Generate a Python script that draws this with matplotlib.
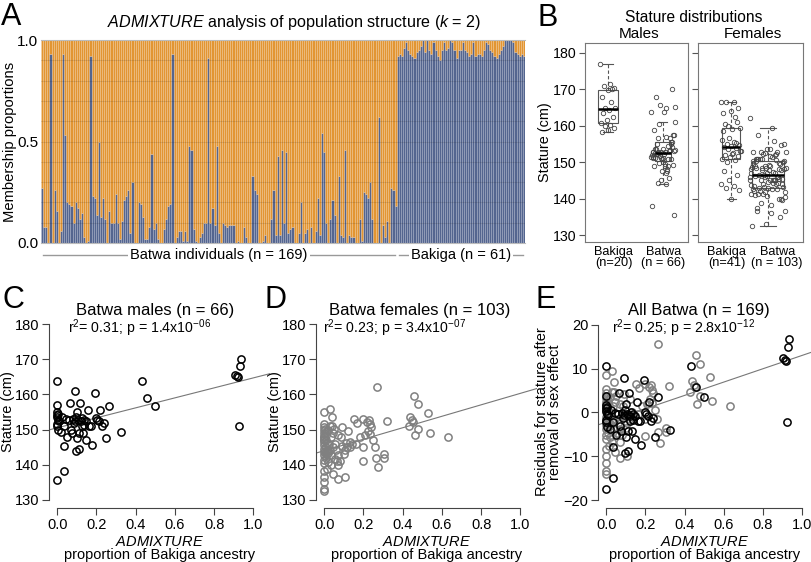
import numpy as np
import matplotlib.pyplot as plt
from matplotlib.transforms import blended_transform_factory

plt.rcParams['font.family'] = ['Liberation Sans', 'DejaVu Sans']
plt.rcParams['mathtext.fontset'] = 'custom'
plt.rcParams['mathtext.rm'] = 'Liberation Sans'
plt.rcParams['mathtext.it'] = 'Liberation Sans:italic'

# ---- panel A: ADMIXTURE membership (Bakiga component) ----
batwa_q = [0.27, 0.08, 0.08, 0.00, 0.93, 0.00, 0.26, 0.16, 0.00, 0.06,
           0.93, 0.53, 0.20, 0.19, 0.18, 0.10, 0.20, 0.17, 0.12, 0.15,
           0.03, 0.00, 0.01, 0.92, 0.23, 0.22, 0.14, 0.50, 0.13, 0.22,
           0.12, 0.00, 0.16, 0.10, 0.10, 0.24, 0.10, 0.02, 0.11, 0.21,
           0.23, 0.26, 0.05, 0.30, 0.00, 0.00, 0.20, 0.19, 0.13, 0.02,
           0.02, 0.08, 0.44, 0.07, 0.10, 0.02, 0.00, 0.00, 0.07,
           0.12, 0.18, 0.19, 0.93, 0.00, 0.03, 0.06, 0.06, 0.01, 0.06,
           0.01, 0.48, 0.46, 0.07, 0.01, 0.00, 0.03, 0.05, 0.10, 0.10,
           0.91, 0.10, 0.17, 0.09, 0.48, 0.05, 0.00, 0.10, 0.09, 0.08,
           0.09, 0.09, 0.09, 0.00, 0.01, 0.00, 0.00, 0.08,
           0.03, 0.00, 0.00, 0.33, 0.26, 0.24, 0.00, 0.00, 0.01, 0.04,
           0.00, 0.00, 0.12, 0.26, 0.04, 0.43, 0.04, 0.46, 0.10, 0.45,
           0.05, 0.07, 0.08, 0.00, 0.00, 0.05, 0.20,
           0.00, 0.05, 0.07, 0.00, 0.08, 0.00, 0.06, 0.22, 0.04,
           0.54, 0.45, 0.10, 0.00, 0.12, 0.21, 0.14, 0.00, 0.33, 0.04,
           0.03, 0.46, 0.00, 0.04, 0.03, 0.03, 0.00, 0.00, 0.12, 0.01,
           0.25, 0.24, 0.22, 0.30, 0.12, 0.00, 0.00, 0.62,
           0.00, 0.09, 0.03, 0.11, 0.00, 0.27, 0.26, 0.18]
bakiga_q = [0.92, 0.93, 0.92, 0.96, 0.99, 0.95, 0.93, 0.92, 0.91, 0.94,
            0.95, 0.97, 1.00, 0.94, 1.00, 0.95, 0.93, 0.99, 0.95, 0.92,
            0.90, 0.95, 0.99, 0.95, 0.96, 1.00, 0.99, 0.95, 0.91, 0.95,
            0.95, 0.99, 0.95, 0.94, 0.92, 0.93, 0.99, 0.92, 0.93, 0.93,
            0.92, 0.95, 0.99, 0.98, 0.95, 0.94, 0.92, 0.91, 0.93, 0.95,
            0.97, 1.00, 1.00, 1.00, 1.00, 0.99, 0.94, 0.93, 0.92, 0.93, 0.92]

# ---- Batwa males: ancestry vs stature ----
male_x = [0.0, 0.0, 0.0, 0.0, 0.0, 0.005, 0.0, 0.005, 0.0, 0.017,
          0.026, 0.034, 0.034, 0.034, 0.051, 0.06, 0.065, 0.068, 0.077, 0.08,
          0.085, 0.09, 0.094, 0.097, 0.10, 0.10, 0.107, 0.11, 0.11, 0.116,
          0.12, 0.124, 0.128, 0.136, 0.136, 0.145, 0.148, 0.158, 0.162, 0.17,
          0.179, 0.193, 0.196, 0.204, 0.213, 0.22, 0.23, 0.238, 0.247, 0.264,
          0.327, 0.434, 0.46, 0.497, 0.905, 0.915, 0.92, 0.93, 0.935, 0.925,
          0.0, 0.005, 0.01, 0.045, 0.13, 0.09]
male_h = [163.7, 157.0, 154.9, 154.2, 153.5, 152.8, 150.9, 149.9, 135.6, 149.4,
          153.7, 150.9, 145.2, 138.1, 148.0, 152.8, 157.5, 150.0, 149.0, 153.0,
          151.8, 161.0, 144.0, 153.7, 155.1, 147.6, 152.8, 149.0, 144.4, 157.5,
          152.3, 151.1, 153.3, 152.8, 151.4, 147.1, 152.3, 155.6, 151.1, 151.1,
          145.7, 160.5, 153.3, 152.8, 152.3, 155.6, 151.1, 152.0, 147.6, 156.6,
          149.2, 163.7, 158.9, 156.6, 165.6, 165.2, 165.0, 168.0, 170.0, 151.0,
          151.5, 154.5, 152.5, 153.0, 149.0, 152.5]

# ---- Batwa females: ancestry vs stature ----
female_x = [0.267, 0.46, 0.48, 0.53, 0.437, 0.447, 0.455, 0.43, 0.48, 0.54,
            0.465, 0.63, 0.32, 0.25, 0.26, 0.265, 0.275, 0.307, 0.307, 0.2,
            0.216, 0.23, 0.233, 0.24, 0.225, 0.208, 0.233, 0.169, 0.152, 0.182,
            0.196, 0.196, 0.162, 0.131, 0.118, 0.131, 0.1, 0.106, 0.11, 0.123,
            0.089, 0.085, 0.106, 0.072, 0.046, 0.072, 0.055, 0.08, 0.029, 0.029,
            0.02, 0.037, 0.046, 0.055, 0.06, 0.068, 0.072, 0.063, 0.032, 0.02,
            0.037, 0.046, 0.012, 0.0, 0.0, 0.0, 0.0, 0.0, 0.0, 0.0,
            0.0, 0.0, 0.0, 0.0, 0.0, 0.0, 0.0, 0.0, 0.0, 0.0,
            0.0, 0.0, 0.008, 0.008, 0.008, 0.01, 0.015, 0.015, 0.02, 0.025,
            0.029, 0.039, 0.0, 0.0, 0.005, 0.005, 0.01, 0.01, 0.04, 0.05,
            0.09, 0.14, 0.017]
female_h = [162.0, 159.5, 157.4, 154.6, 153.6, 152.7, 152.2, 151.0, 150.3, 149.0,
            148.4, 148.0, 152.5, 147.0, 145.0, 142.0, 139.5, 143.0, 142.0, 152.9,
            152.2, 152.7, 151.5, 150.8, 149.6, 148.4, 148.7, 152.0, 152.9, 148.0,
            145.0, 141.0, 146.0, 146.5, 145.0, 145.0, 143.0, 144.1, 146.2, 149.6,
            150.6, 147.9, 136.5, 136.0, 137.4, 139.8, 141.7, 141.2, 155.9, 151.0,
            150.0, 147.9, 148.9, 146.0, 144.1, 148.4, 142.7, 141.2, 139.8, 140.8,
            142.7, 145.0, 138.9, 155.0, 151.7, 150.8, 149.8, 148.9, 148.1, 147.4,
            146.5, 145.5, 144.6, 143.6, 142.7, 141.4, 140.5, 138.2, 136.5, 135.0,
            133.1, 132.5, 147.1, 145.0, 143.1, 149.3, 146.2, 144.3, 143.3, 146.0,
            144.3, 151.0, 147.8, 146.9, 150.3, 144.0, 148.5, 141.8, 153.5, 150.2,
            145.3, 145.8, 143.8]

# ---- Bakiga statures (panel B) ----
bakiga_m = [177.0, 171.5, 171.0, 170.3, 169.8, 168.0, 166.5, 165.0, 164.8, 164.2,
            163.5, 162.5, 161.5, 160.8, 160.2, 159.8, 159.3, 158.8, 158.2, 170.0]
bakiga_f = [166.5, 166.5, 166.5, 165.0, 164.0, 163.5, 162.5, 160.0, 159.5, 159.0,
            160.5, 161.0, 156.5, 156.0, 155.5, 155.0, 154.8, 154.5, 154.2, 154.0,
            153.5, 153.0, 152.5, 152.0, 151.8, 151.5, 151.0, 150.5, 150.0, 153.2,
            152.3, 147.5, 146.5, 145.0, 144.0, 143.5, 143.0, 142.5, 140.0, 158.5, 155.2]

# regression lines (intercept, slope)
fit_m = (150.5, 14.2)
fit_f = (144.0, 16.3)
fit_all = (-2.2, 15.2)

orange = '#E29532'
blue = '#54658F'
W, H = 812, 562
fig = plt.figure(figsize=(W / 100, H / 100), dpi=100)


def box(l, t, r, b):
    return [l / W, 1 - b / H, (r - l) / W, (b - t) / H]


def ft(x, y, s, **kw):
    kw.setdefault('ha', 'center')
    kw.setdefault('va', 'center')
    fig.text(x / W, 1 - y / H, s, **kw)


# ================= A =================
axA = fig.add_axes(box(41, 40, 525, 243))
q = np.array(batwa_q + bakiga_q)
idx = np.arange(len(q))
axA.bar(idx, q, width=1, color=blue, edgecolor=(1, 1, 1, 0.2), linewidth=0.4)
axA.bar(idx, 1 - q, bottom=q, width=1, color=orange, edgecolor=(1, 1, 1, 0.2), linewidth=0.4)
for g in np.arange(0.1, 0.95, 0.1):
    axA.axhline(g, color=(0, 0, 0, 0.1), lw=0.8)
axA.set_xlim(-0.5, len(q) - 0.5)
axA.set_ylim(0, 1)
axA.set_xticks([])
axA.set_yticks([0, 0.5, 1.0], ['0.0', '0.5', '1.0'], fontsize=11)
axA.tick_params(axis='y', length=0, pad=2)
for s in ['left', 'right']:
    axA.spines[s].set_visible(False)
for s in ['top', 'bottom']:
    axA.spines[s].set_color('#bbbbbb')
axA.set_ylabel('Membership proportions', fontsize=10.6, labelpad=0)

tr = blended_transform_factory(axA.transData, axA.transAxes)
nb = len(batwa_q)
groups = [(0, nb - 1, 'Batwa individuals (n = %d)' % nb),
          (nb, len(q) - 1, 'Bakiga (n = %d)' % len(bakiga_q))]
for a, b, lab in groups:
    axA.plot([a + 0.5, b - 0.5], [-0.06, -0.06], color='#999999', lw=1,
             transform=tr, clip_on=False)
    axA.text((a + b) / 2, -0.06, lab, transform=tr, ha='center', va='center',
             fontsize=10.5, bbox=dict(facecolor='white', edgecolor='none', pad=1.5))

ft(11, 17, 'A', fontsize=22)
ft(294, 22, r'$\it{ADMIXTURE}$ analysis of population structure ($\it{k}$ = 2)', fontsize=11.6)

# ================= B =================
def stature_box(ax, groups, widths, jit):
    ax.boxplot(groups, positions=[1, 2], widths=widths, showfliers=False,
               patch_artist=True, capwidths=[w * 0.5 for w in widths],
               boxprops=dict(facecolor='white', edgecolor='#555555', lw=0.8),
               medianprops=dict(color='black', lw=1.8),
               whiskerprops=dict(color='#555555', lw=0.8, ls=(0, (3, 2))),
               capprops=dict(color='#555555', lw=0.8))
    for p, vals, j in zip([1, 2], groups, jit):
        n = len(vals)
        off = ((np.arange(n) * 0.618034) % 1 - 0.5) * j
        ax.plot(p + off, vals, 'o', ms=3.2, mfc='none', mec='#444444', mew=0.6)
    ax.set_ylim(128.1, 182.7)
    for s in ax.spines.values():
        s.set_color('#777777')
        s.set_linewidth(0.8)
    ax.set_yticks(range(130, 181, 10))
    ax.tick_params(axis='y', direction='out', length=4, color='#555555', labelsize=10.2, pad=2)
    ax.tick_params(axis='x', length=0, labelsize=9.2, pad=3)


axBm = fig.add_axes(box(585, 43, 688, 242))
stature_box(axBm, [bakiga_m, male_h], [0.35, 0.29], [0.28, 0.45])
axBm.set_xlim(0.58, 2.45)
axBm.set_xticks([1.1, 2.0], ['Bakiga\n(n=%d)' % len(bakiga_m), 'Batwa\n(n = %d)' % len(male_h)],
                linespacing=0.9)
axBm.set_ylabel('Stature (cm)', fontsize=10.4, labelpad=1)

axBf = fig.add_axes(box(698, 43, 803, 242))
stature_box(axBf, [bakiga_f, female_h], [0.5, 0.85], [0.55, 1.0])
axBf.set_xlim(0.1, 2.95)
axBf.set_xticks([0.88, 2.25], ['Bakiga\n(n=%d)' % len(bakiga_f), 'Batwa\n(n = %d)' % len(female_h)],
                linespacing=0.9)
axBf.set_yticklabels([])

ft(548, 18, 'B', fontsize=22)
ft(694, 17, 'Stature distributions', fontsize=11.2)
ft(639, 34, 'Males', fontsize=11)
ft(753, 34, 'Females', fontsize=11)

# ================= C, D, E =================
def scatter_panel(ax, pts, colors, fit, xmax, ylim, yticks):
    ax.set_xlim(-0.042, xmax)
    ax.set_ylim(*ylim)
    xx = np.array(ax.get_xlim())
    ax.plot(xx, fit[0] + fit[1] * xx, color='#777777', lw=0.8, zorder=1)
    for (x, y), c in zip(pts, colors):
        ax.plot(x, y, 'o', ms=5.2, mfc='none', mec=c, mew=1.1, zorder=2)
    for s in ['top', 'right']:
        ax.spines[s].set_visible(False)
    ax.spines['left'].set_bounds(yticks[0], yticks[-1])
    ax.spines['bottom'].set_bounds(0, 1)
    for s in ['left', 'bottom']:
        ax.spines[s].set_color('#444444')
        ax.spines[s].set_linewidth(0.8)
    ax.set_yticks(yticks)
    ax.set_xticks(np.arange(0, 1.01, 0.2), ['0.0', '0.2', '0.4', '0.6', '0.8', '1.0'])
    ax.tick_params(direction='out', length=5, color='#444444', labelsize=10.5, pad=2)
    ax.set_xlabel(r'$\it{ADMIXTURE}$' + '\nproportion of Bakiga ancestry',
                  fontsize=10.5, linespacing=1.0, labelpad=2)


mx, mh = np.array(male_x), np.array(male_h)
fx, fh = np.array(female_x), np.array(female_h)

axC = fig.add_axes(box(49, 316, 270, 508))
scatter_panel(axC, [(mx, mh)], ['black'], fit_m, 1.085, (127.7, 182.3), list(range(130, 181, 10)))
axC.set_ylabel('Stature (cm)', fontsize=10.5, labelpad=0)
ft(13, 300, 'C', fontsize=22)
ft(155, 310, 'Batwa males (n = %d)' % len(male_h), fontsize=12)
ft(140, 328, r'r$^2$= 0.31; p = 1.4x10$^{-06}$', fontsize=10.2)

axD = fig.add_axes(box(316, 316, 537, 508))
scatter_panel(axD, [(fx, fh)], ['#808080'], fit_f, 1.085, (127.7, 182.3), list(range(130, 181, 10)))
axD.set_ylabel('Stature (cm)', fontsize=10.5, labelpad=0)
ft(276, 300, 'D', fontsize=22)
ft(420, 310, 'Batwa females (n = %d)' % len(female_h), fontsize=12)
ft(395, 328, r'r$^2$= 0.23; p = 3.4x10$^{-07}$', fontsize=10.2)

# residuals after removing the sex effect
res_m = mh - mh.mean()
res_f = fh - fh.mean()
axE = fig.add_axes(box(598, 316, 811, 508))
scatter_panel(axE, [(fx, res_f), (mx, res_m)], ['#808080', 'black'], fit_all, 1.046,
              (-21.8, 22.0), list(range(-20, 21, 10)))
axE.set_ylabel('Residuals for stature after\nremoval of sex effect', fontsize=10.5,
               linespacing=0.95, labelpad=1)
ft(546, 300, 'E', fontsize=22)
ft(699, 310, 'All Batwa (n = %d)' % (len(male_h) + len(female_h)), fontsize=12)
ft(684, 328, r'r$^2$= 0.25; p = 2.8x10$^{-12}$', fontsize=10.2)

fig.savefig('out.png', dpi=100)
